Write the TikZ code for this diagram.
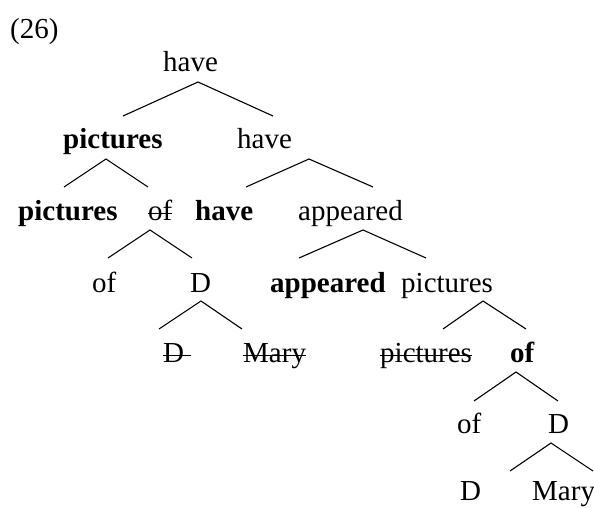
\documentclass[tikz,border=0pt]{standalone}
\usepackage{fontspec}
\setmainfont{Liberation Serif}
\newcommand\strk[1]{\setbox0\hbox{#1}\rlap{\rule[0.2em]{\wd0}{0.05em}}\box0}
\tikzset{word/.style={anchor=base west,inner sep=0pt,font=\fontsize{29}{35}\selectfont},
  branch/.style={line width=1.1pt}}
\begin{document}
\begin{tikzpicture}[x=1pt,y=-1pt]
            \useasboundingbox (0,0) rectangle (594,508);
            \node[word] (ex) at (10,39) {(26)};
            % words
            \node[word] (have0) at (163,72) {have};
            \node[word] (pics1) at (63,149) {\textbf{pictures}};
            \node[word] (have1) at (237,149) {have};
            \node[word] (pics2) at (18,220) {\textbf{pictures}};
            \node[word] (of2) at (148,220) {\strk{of}};
            \node[word] (have2) at (195,220) {\textbf{have}};
            \node[word] (app2) at (298,220) {appeared};
            \node[word] (of3) at (92,292) {of};
            \node[word] (d3) at (190,292) {D};
            \node[word] (app3) at (270,292) {\textbf{appeared}};
            \node[word] (pics3) at (401,292) {pictures};
            \node[word] (d4) at (163,362) {\strk{D\ }};
            \node[word] (mary4) at (243,362) {\strk{Mary}};
            \node[word] (pics4) at (380,362) {\strk{pictures}};
            \node[word] (of4) at (510,362) {\textbf{of}};
            \node[word] (of5) at (457,433) {of};
            \node[word] (d5) at (548,433) {D};
            \node[word] (d6) at (460,500) {D};
            \node[word] (mary6) at (532,500) {Mary};
            % branch points
            \coordinate (have0-t) at (198,82); \coordinate (have0-l) at (123,116); \coordinate (have0-r) at (273,116);
            \coordinate (pics1-t) at (106,159); \coordinate (pics1-l) at (64,187); \coordinate (pics1-r) at (148,187);
            \coordinate (have1-t) at (309,159); \coordinate (have1-l) at (246,187); \coordinate (have1-r) at (373,187);
            \coordinate (of2-t) at (150,230); \coordinate (of2-l) at (108,258); \coordinate (of2-r) at (192,258);
            \coordinate (app2-t) at (363,230); \coordinate (app2-l) at (299,258); \coordinate (app2-r) at (426,258);
            \coordinate (d3-t) at (201,301); \coordinate (d3-l) at (159,329); \coordinate (d3-r) at (242,329);
            \coordinate (pics3-t) at (483,301); \coordinate (pics3-l) at (443,329); \coordinate (pics3-r) at (526,329);
            \coordinate (of4-t) at (516,372); \coordinate (of4-l) at (474,401); \coordinate (of4-r) at (558,401);
            \coordinate (d5-t) at (551,443); \coordinate (d5-l) at (510,471); \coordinate (d5-r) at (593,471);
            \foreach \p in {have0,pics1,have1,of2,app2,d3,pics3,of4,d5}
              \draw[branch] (\p-l) -- (\p-t) -- (\p-r);
        \end{tikzpicture}
\end{document}
